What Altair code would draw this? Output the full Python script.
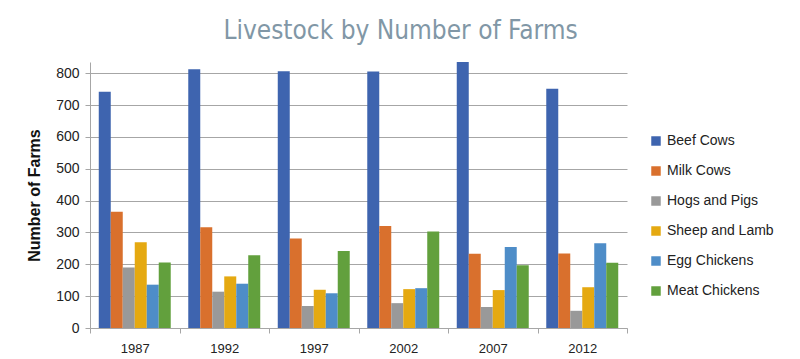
import altair as alt
import pandas as pd

years = ["1987", "1992", "1997", "2002", "2007", "2012"]
series = ["Beef Cows", "Milk Cows", "Hogs and Pigs", "Sheep and Lamb", "Egg Chickens", "Meat Chickens"]
beef = [742, 812, 806, 805, 835, 751]
milk = [365, 316, 281, 320, 233, 234]
hogs = [190, 114, 69, 78, 66, 54]
sheep = [269, 162, 120, 122, 119, 128]
egg = [136, 139, 109, 125, 254, 266]
meat = [206, 228, 242, 303, 197, 205]
colors = ["#3E64AF", "#D9702D", "#999999", "#E5A911", "#4E8DC8", "#62A03D"]

vals = [beef, milk, hogs, sheep, egg, meat]
rows = []
for s, v in zip(series, vals):
    for y, n in zip(years, v):
        rows.append({"Year": y, "Series": s, "Farms": n})
df = pd.DataFrame(rows)

chart = alt.Chart(df).mark_bar().encode(
    x=alt.X("Year:N", sort=years, title=None,
            scale=alt.Scale(paddingInner=0, paddingOuter=0),
            axis=alt.Axis(labelAngle=0, tickBand="extent", labelFontSize=13,
                          labelColor="#222222", labelFont="Liberation Sans",
                          domainColor="#A6A6A6", tickColor="#A6A6A6", tickSize=5,
                          labelPadding=9, grid=False)),
    xOffset=alt.XOffset("Series:N", sort=series,
                        scale=alt.Scale(paddingInner=0, paddingOuter=0.73)),
    y=alt.Y("Farms:Q", title="Number of Farms",
            scale=alt.Scale(domain=[0, 835], nice=False),
            axis=alt.Axis(values=[0, 100, 200, 300, 400, 500, 600, 700, 800],
                          labelFontSize=14, labelColor="#222222", labelFont="Liberation Sans",
                          titleFontSize=16, titleFont="Liberation Sans", titleColor="#111111",
                          titleFontWeight="bold", titlePadding=13,
                          gridColor="#A6A6A6", domainColor="#A6A6A6", tickColor="#A6A6A6",
                          tickSize=5, labelPadding=6)),
    color=alt.Color("Series:N", sort=series,
                    scale=alt.Scale(domain=series, range=colors),
                    legend=alt.Legend(title=None, orient="none", legendX=559, legendY=72,
                                      symbolType="square", symbolSize=90, symbolStrokeWidth=0,
                                      labelFontSize=14, labelFont="Liberation Sans",
                                      labelColor="#222222", rowPadding=16, labelLimit=200)),
).properties(
    width=537, height=266,
    autosize=alt.AutoSizeParams(type="none"),
    padding={"left": 82, "top": 54, "right": 165, "bottom": 29},
    title=alt.TitleParams("Livestock by Number of Farms", font="DejaVu Sans Condensed",
                          fontSize=26, fontWeight="normal", color="#8197A6",
                          anchor="middle", dx=42, offset=18),
).configure_view(stroke=None)

chart.save("out.html", embed_options={"renderer": "svg", "actions": False})
